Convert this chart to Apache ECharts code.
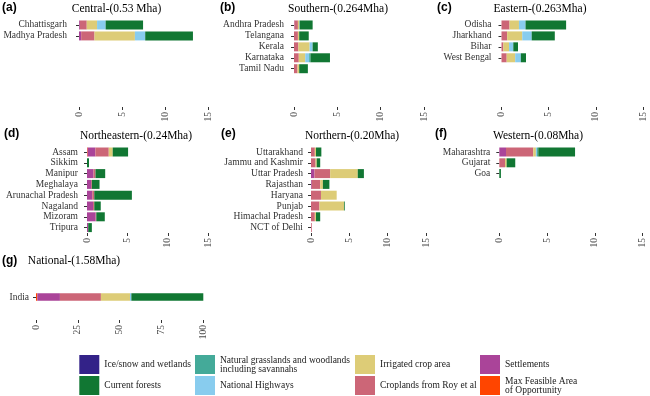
<!DOCTYPE html>
<html>
<head>
<meta charset="utf-8">
<script src="https://cdn.jsdelivr.net/npm/echarts@6/dist/echarts.min.js"></script>
<style>
  html, body { margin: 0; padding: 0; background: #fff; }
  #chart { width: 650px; height: 396px; }
</style>
</head>
<body>
<div id="chart"></div>
<script>
// classes, in stacking order from the axis outwards
const classNames = [
  'Max Feasible Area of Opportunity',
  'Settlements',
  'Croplands from Roy et al',
  'Irrigated crop area',
  'National Highways',
  'Natural grasslands and woodlands including savannahs',
  'Current forests',
  'Ice/snow and wetlands'
];
const classColors = ['#ff4500', '#aa4499', '#cc6677', '#ddcc77', '#88ccee', '#44aa99', '#117733', '#332288'];

// values per state: [maxF, settle, crop, irrig, highway, grass, forest, ice]
const centralStates = ['Chhattisgarh', 'Madhya Pradesh'];
const centralValues = [
  [0, 0.1, 0.8, 1.2, 1.0, 0, 4.35, 0],
  [0, 0.25, 1.55, 4.7, 1.2, 0, 5.55, 0]
];

const southernStates = ['Andhra Pradesh', 'Telangana', 'Kerala', 'Karnataka', 'Tamil Nadu'];
const southernValues = [
  [0, 0.05, 0.4, 0.15, 0.05, 0, 1.5, 0],
  [0, 0, 0.45, 0.15, 0, 0, 1.1, 0],
  [0, 0, 0.5, 1.3, 0.35, 0, 0.6, 0],
  [0, 0, 0.55, 0.75, 0.45, 0.15, 2.25, 0],
  [0, 0, 0.4, 0.2, 0, 0, 1.0, 0]
];

const easternStates = ['Odisha', 'Jharkhand', 'Bihar', 'West Bengal'];
const easternValues = [
  [0, 0, 0.85, 1.0, 0.7, 0, 4.3, 0],
  [0, 0, 0.6, 1.6, 1.0, 0, 2.45, 0],
  [0, 0, 0.2, 0.6, 0.45, 0, 0.5, 0],
  [0, 0, 0.55, 0.9, 0.6, 0, 0.55, 0]
];

const northeasternStates = ['Assam', 'Sikkim', 'Manipur', 'Meghalaya', 'Arunachal Pradesh', 'Nagaland', 'Mizoram', 'Tripura'];
const northeasternValues = [
  [0.08, 0.95, 1.66, 0.49, 0, 0, 1.9, 0],
  [0, 0, 0, 0, 0, 0, 0.25, 0],
  [0, 0.8, 0.25, 0, 0, 0, 1.2, 0],
  [0, 0.5, 0.1, 0, 0, 0, 0.95, 0],
  [0, 0.65, 0.25, 0, 0, 0, 4.65, 0],
  [0, 0.75, 0.15, 0, 0, 0, 0.8, 0],
  [0, 1.07, 0.08, 0, 0, 0, 1.05, 0],
  [0, 0.15, 0, 0, 0, 0, 0.45, 0]
];

const northernStates = ['Uttarakhand', 'Jammu and Kashmir', 'Uttar Pradesh', 'Rajasthan', 'Haryana', 'Punjab', 'Himachal Pradesh', 'NCT of Delhi'];
const northernValues = [
  [0, 0, 0.5, 0.15, 0, 0, 0.7, 0],
  [0, 0, 0.6, 0.15, 0, 0, 0.45, 0],
  [0, 0.45, 2.05, 3.6, 0, 0, 0.8, 0],
  [0, 0.1, 1.1, 0.35, 0, 0, 0.85, 0],
  [0, 0, 1.3, 2.05, 0, 0, 0, 0],
  [0, 0, 1.1, 3.2, 0, 0, 0.1, 0],
  [0, 0, 0.5, 0.15, 0, 0, 0.55, 0],
  [0, 0, 0.1, 0, 0, 0, 0, 0]
];

const westernStates = ['Maharashtra', 'Gujarat', 'Goa'];
const westernValues = [
  [0, 0.7, 2.85, 0.28, 0.12, 0.13, 3.85, 0],
  [0, 0, 0.6, 0.17, 0, 0, 0.9, 0],
  [0, 0, 0, 0, 0, 0, 0.17, 0]
];

const nationalStates = ['India'];
const nationalValues = [
  [0.8, 13.5, 24.5, 17.4, 0.8, 0, 43, 0]
];

const regionTicks = [0, 5, 10, 15];
const nationalTicks = [0, 25, 50, 75, 100];

const panels = [
  { title: 'Central-(0.53 Mha)', tag: '(a)', states: centralStates, values: centralValues,
    grid: [79, 19.5, 129, 87.5], offset: 7, tx: 116.5, ty: 9.3, lx: 2, ly: 7.5 },
  { title: 'Southern-(0.264Mha)', tag: '(b)', states: southernStates, values: southernValues,
    grid: [294, 19.5, 130, 87.5], offset: 5, tx: 338, ty: 9.3, lx: 220, ly: 7.5 },
  { title: 'Eastern-(0.263Mha)', tag: '(c)', states: easternStates, values: easternValues,
    grid: [501.5, 19.5, 141.5, 87.5], offset: 5, tx: 540, ty: 9.3, lx: 437, ly: 7.5 },
  { title: 'Northeastern-(0.24Mha)', tag: '(d)', states: northeasternStates, values: northeasternValues,
    grid: [87, 146.6, 121.3, 86.4], offset: 4, tx: 136, ty: 136, lx: 4, ly: 134 },
  { title: 'Northern-(0.20Mha)', tag: '(e)', states: northernStates, values: northernValues,
    grid: [311, 146.6, 115, 86.4], offset: 3, tx: 352, ty: 136, lx: 221, ly: 134 },
  { title: 'Western-(0.08Mha)', tag: '(f)', states: westernStates, values: westernValues,
    grid: [499.3, 146.6, 143.3, 86.4], offset: 4, tx: 538, ty: 135.7, lx: 435, ly: 134 },
  { title: 'National-(1.58Mha)', tag: '(g)', states: nationalStates, values: nationalValues,
    grid: [36, 274, 167.3, 46], offset: 2, tx: 74, ty: 261, lx: 2, ly: 261, national: true }
];

const serif = 'Liberation Serif';
const chart = echarts.init(document.getElementById('chart'), null, { renderer: 'canvas' });

const grids = [], xAxes = [], yAxes = [], titles = [], series = [];

panels.forEach((p, i) => {
  grids.push({ left: p.grid[0], top: p.grid[1], width: p.grid[2], height: p.grid[3] });

  const ticks = p.national ? nationalTicks : regionTicks;
  xAxes.push({
    gridIndex: i,
    type: 'value',
    min: ticks[0],
    max: ticks[ticks.length - 1],
    interval: ticks[1] - ticks[0],
    axisLine: { show: false },
    axisTick: { show: true, length: 3, lineStyle: { color: '#333' } },
    splitLine: { show: false },
    axisLabel: { rotate: 90, margin: 5, fontSize: 9.5, fontFamily: serif, color: '#4d4d4d' }
  });

  // rows 1 and 2 keep eight slots so the bars sit at the top
  const cats = p.states.slice();
  if (!p.national) while (cats.length < 8) cats.push('');
  yAxes.push({
    gridIndex: i,
    type: 'category',
    inverse: true,
    data: cats,
    offset: p.offset,
    axisLine: { show: false },
    axisTick: {
      show: true, length: 3, alignWithLabel: true,
      interval: (idx, val) => val !== '',
      lineStyle: { color: '#333' }
    },
    axisLabel: { margin: 5, fontSize: 9.5, fontFamily: serif, color: '#333', interval: 0 }
  });

  titles.push({
    text: p.title, left: p.tx, top: p.ty, padding: 0,
    textAlign: 'center', textVerticalAlign: 'middle',
    textStyle: { fontFamily: serif, fontSize: 11.5, fontWeight: 'normal', color: '#000' }
  });
  titles.push({
    text: p.tag, left: p.lx, top: p.ly, padding: 0,
    textAlign: 'left', textVerticalAlign: 'middle',
    textStyle: { fontFamily: 'Liberation Sans', fontSize: 12, fontWeight: 'bold', color: '#000' }
  });

  classNames.forEach((name, k) => {
    series.push({
      type: 'bar',
      name: name,
      xAxisIndex: i,
      yAxisIndex: i,
      stack: 'panel' + i,
      barWidth: p.national ? 7.5 : 9,
      itemStyle: { color: classColors[k] },
      data: p.values.map(r => r[k])
    });
  });
});

const legendText = { fontFamily: serif, fontSize: 9.5, color: '#1a1a1a', lineHeight: 9 };
const legendCols = [
  { left: 79.3, names: [classNames[7], classNames[6]] },
  { left: 195, names: [classNames[5], classNames[4]] },
  { left: 355, names: [classNames[3], classNames[2]] },
  { left: 480, names: [classNames[1], classNames[0]] }
];
const legends = legendCols.map(c => ({
  orient: 'vertical',
  left: c.left,
  top: 355,
  height: 41,
  padding: 0,
  itemWidth: 20,
  itemHeight: 19,
  itemGap: 2,
  icon: 'rect',
  selectedMode: false,
  data: c.names,
  textStyle: legendText,
  formatter: n => {
    if (n === classNames[5]) return 'Natural grasslands and woodlands\nincluding savannahs';
    if (n === classNames[0]) return 'Max Feasible Area\nof Opportunity';
    return n;
  }
}));

chart.setOption({
  animation: false,
  backgroundColor: '#fff',
  title: titles,
  legend: legends,
  grid: grids,
  xAxis: xAxes,
  yAxis: yAxes,
  series: series
});
</script>
</body>
</html>
